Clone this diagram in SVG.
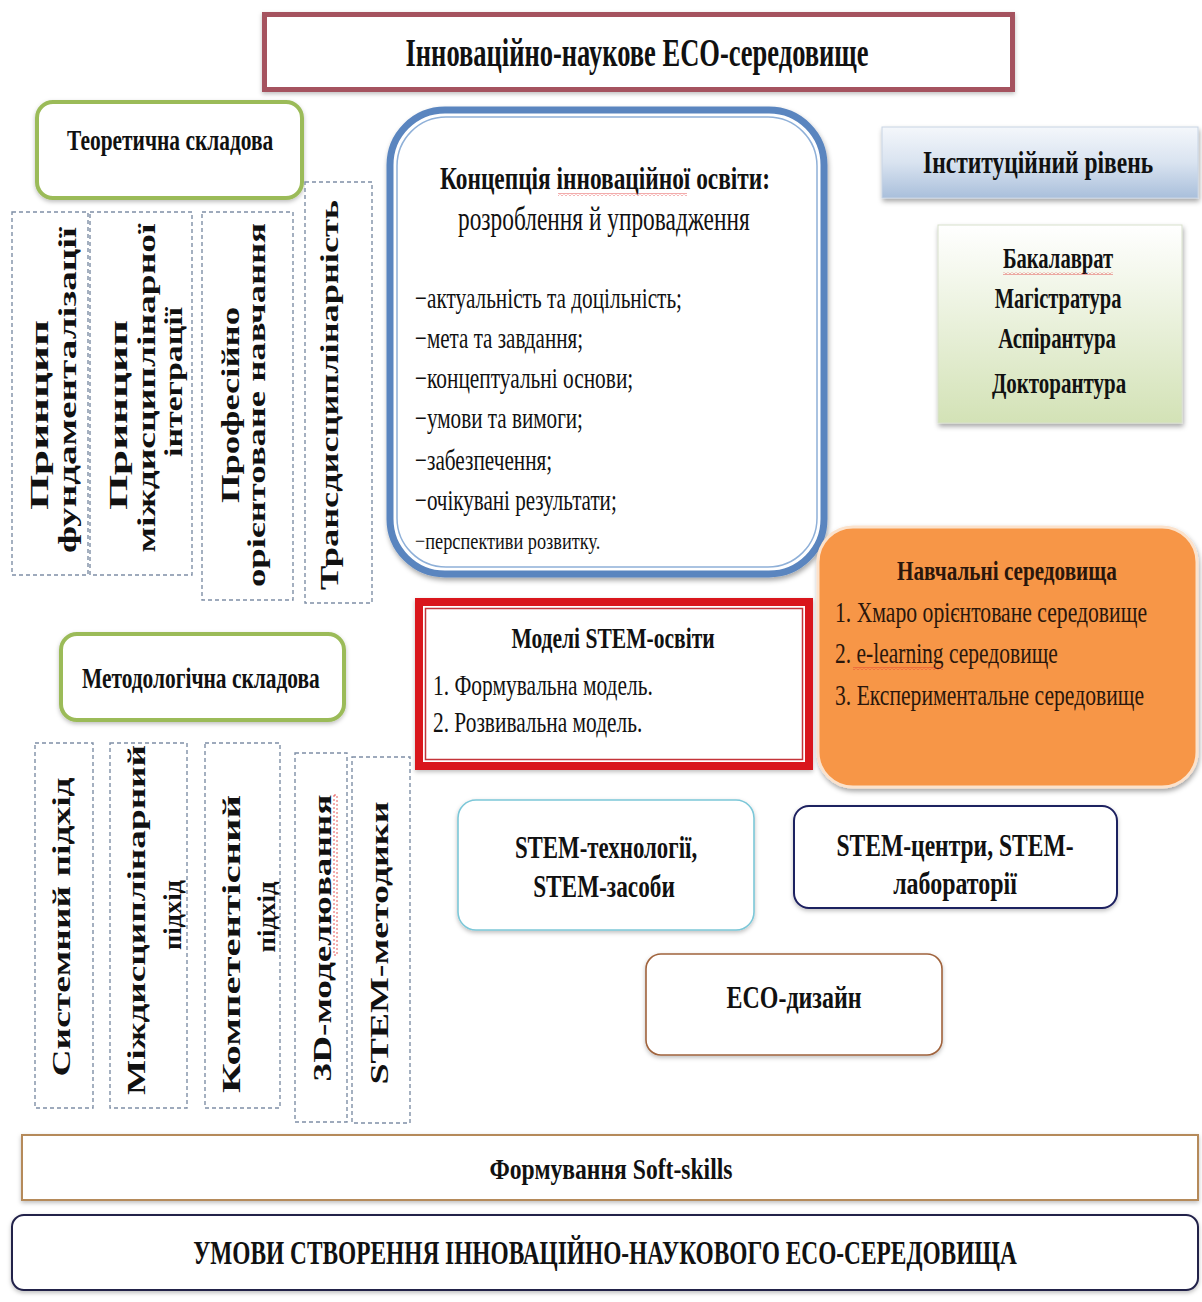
<svg xmlns="http://www.w3.org/2000/svg" width="1202" height="1302" viewBox="0 0 1202 1302">
<defs>
<style>
text{font-family:"Liberation Serif","Times New Roman",serif;fill:#111;}
.b{font-weight:bold;}
.dash{fill:#fff;stroke:#7f8fa6;stroke-width:1.4;stroke-dasharray:4 3;}
.vt{font-size:26px;font-weight:bold;text-anchor:middle;}
.green{fill:#fff;stroke:#9bbb59;stroke-width:4;}
.c{text-anchor:middle;}
.wave{fill:url(#wv);}
.or{fill:#2a160c;}
</style>
<pattern id="wv" width="4" height="3" patternUnits="userSpaceOnUse">
<path d="M0 2.5 L2 0.5 L4 2.5" fill="none" stroke="#e03030" stroke-width="0.8"/>
</pattern>
<filter id="sh" x="-10%" y="-10%" width="120%" height="130%">
<feDropShadow dx="1" dy="3" stdDeviation="2.5" flood-color="#000" flood-opacity="0.35"/>
</filter>
<filter id="sh2" x="-10%" y="-10%" width="120%" height="130%">
<feDropShadow dx="0" dy="2" stdDeviation="2" flood-color="#000" flood-opacity="0.25"/>
</filter>
<linearGradient id="gBlue" x1="0" y1="0" x2="0" y2="1">
<stop offset="0" stop-color="#f4f7fb"/>
<stop offset="0.5" stop-color="#d9e3f0"/>
<stop offset="1" stop-color="#a9bfdb"/>
</linearGradient>
<linearGradient id="gGreen" x1="0" y1="0" x2="0" y2="1">
<stop offset="0" stop-color="#ffffff"/>
<stop offset="1" stop-color="#d3e2b6"/>
</linearGradient>
</defs>
<rect width="1202" height="1302" fill="#fff"/>

<g id="connectors"/>

<g id="title">
<rect x="264.5" y="14.5" width="748" height="75" fill="#fff" stroke="#a5535e" stroke-width="5" filter="url(#sh2)"/>
<text class="b c" transform="translate(637,66) scale(0.72,1)" font-size="40" textLength="643" lengthAdjust="spacingAndGlyphs">Інноваційно-наукове  ECO-середовище</text>
</g>

<g id="theory">
<rect class="green" x="37" y="102" width="265" height="96" rx="16" filter="url(#sh2)"/>
<text class="b" transform="translate(67,150) scale(0.75,1)" font-size="29" textLength="275" lengthAdjust="spacingAndGlyphs">Теоретична  складова</text>
</g>

<g id="t1">
<rect class="dash" x="12" y="212" width="76" height="363"/>
<text class="vt" transform="translate(48,415) rotate(-90)" textLength="190" lengthAdjust="spacingAndGlyphs">Принцип</text>
<text class="vt" transform="translate(76,390) rotate(-90)" textLength="326" lengthAdjust="spacingAndGlyphs">фундаменталізації</text>
</g>
<g id="t2">
<rect class="dash" x="90" y="212" width="102" height="363"/>
<text class="vt" transform="translate(127,415) rotate(-90)" textLength="190" lengthAdjust="spacingAndGlyphs">Принцип</text>
<text class="vt" transform="translate(155,388) rotate(-90)" textLength="329" lengthAdjust="spacingAndGlyphs">міждисциплінарної</text>
<text class="vt" transform="translate(182,382) rotate(-90)" textLength="150" lengthAdjust="spacingAndGlyphs">інтеграції</text>
</g>
<g id="t3">
<rect class="dash" x="202" y="212" width="91" height="388"/>
<text class="vt" transform="translate(239,405) rotate(-90)" textLength="196" lengthAdjust="spacingAndGlyphs">Професійно</text>
<text class="vt" transform="translate(265,405) rotate(-90)" textLength="364" lengthAdjust="spacingAndGlyphs">орієнтоване навчання</text>
</g>
<g id="t4">
<rect class="dash" x="305" y="182" width="67" height="421"/>
<text class="vt" transform="translate(338,395) rotate(-90)" textLength="390" lengthAdjust="spacingAndGlyphs">Трансдисциплінарність</text>
</g>

<g id="concept">
<rect x="390" y="110" width="434" height="464" rx="55" fill="#fff" stroke="#5a85bf" stroke-width="7" filter="url(#sh)"/>
<rect x="397" y="117" width="420" height="450" rx="49" fill="none" stroke="#8fb0d8" stroke-width="1.5"/>
<text class="b" transform="translate(440,189) scale(0.75,1)" font-size="32" textLength="440" lengthAdjust="spacingAndGlyphs">Концепція інноваційної освіти:</text>
<rect class="wave" x="558" y="193" width="129" height="3"/>
<text transform="translate(458,230) scale(0.75,1)" font-size="34" textLength="389" lengthAdjust="spacingAndGlyphs">розроблення й упровадження</text>
<text transform="translate(415,308) scale(0.75,1)" font-size="30" textLength="356" lengthAdjust="spacingAndGlyphs">−актуальність  та доцільність;</text>
<text transform="translate(415,348) scale(0.75,1)" font-size="30" textLength="224" lengthAdjust="spacingAndGlyphs">−мета та завдання;</text>
<text transform="translate(415,388) scale(0.75,1)" font-size="30" textLength="291" lengthAdjust="spacingAndGlyphs">−концептуальні  основи;</text>
<text transform="translate(415,428) scale(0.75,1)" font-size="30" textLength="224" lengthAdjust="spacingAndGlyphs">−умови та вимоги;</text>
<text transform="translate(415,470) scale(0.75,1)" font-size="30" textLength="183" lengthAdjust="spacingAndGlyphs">−забезпечення;</text>
<text transform="translate(415,510) scale(0.75,1)" font-size="30" textLength="269" lengthAdjust="spacingAndGlyphs">−очікувані результати;</text>
<text transform="translate(415,549) scale(0.75,1)" font-size="24" textLength="247" lengthAdjust="spacingAndGlyphs">−перспективи розвитку.</text>
</g>

<g id="institutional">
<rect x="882" y="127" width="316" height="71" fill="url(#gBlue)" stroke="#c8d4e4" stroke-width="1" filter="url(#sh)"/>
<text class="b" transform="translate(923,173) scale(0.75,1)" font-size="32" textLength="307" lengthAdjust="spacingAndGlyphs">Інституційний рівень</text>
</g>

<g id="degrees">
<rect x="938" y="225" width="244" height="198" fill="url(#gGreen)" stroke="#d8e0cc" stroke-width="1" filter="url(#sh)"/>
<text class="b c" transform="translate(1058,268) scale(0.75,1)" font-size="29" textLength="147" lengthAdjust="spacingAndGlyphs">Бакалаврат</text>
<rect class="wave" x="1003" y="272" width="110" height="3"/>
<text class="b c" transform="translate(1058,308) scale(0.75,1)" font-size="29" textLength="169" lengthAdjust="spacingAndGlyphs">Магістратура</text>
<text class="b c" transform="translate(1057,348) scale(0.75,1)" font-size="29" textLength="157" lengthAdjust="spacingAndGlyphs">Аспірантура</text>
<text class="b c" transform="translate(1059,393) scale(0.75,1)" font-size="29" textLength="179" lengthAdjust="spacingAndGlyphs">Докторантура</text>
</g>

<g id="learning-env">
<rect x="818" y="527" width="379" height="260" rx="35" fill="#f79646" stroke="#fbe2cc" stroke-width="3" filter="url(#sh)"/>
<text class="b or" transform="translate(897,580) scale(0.75,1)" font-size="28" textLength="293" lengthAdjust="spacingAndGlyphs">Навчальні середовища</text>
<text class="or" transform="translate(835,622) scale(0.75,1)" font-size="29" textLength="416" lengthAdjust="spacingAndGlyphs">1. Хмаро орієнтоване  середовище</text>
<text class="or" transform="translate(835,663) scale(0.75,1)" font-size="29" textLength="297" lengthAdjust="spacingAndGlyphs">2. e-learning середовище</text>
<rect class="wave" x="853" y="667" width="90" height="3"/>
<text class="or" transform="translate(835,705) scale(0.75,1)" font-size="29" textLength="412" lengthAdjust="spacingAndGlyphs">3. Експериментальне  середовище</text>
</g>

<g id="stem-models">
<rect x="419" y="602" width="390" height="164" fill="#fff" stroke="#d9161c" stroke-width="8" filter="url(#sh2)"/>
<rect x="425.5" y="608.5" width="377" height="151" fill="none" stroke="#c4343a" stroke-width="1.5"/>
<text class="b c" transform="translate(613,648) scale(0.75,1)" font-size="30" textLength="271" lengthAdjust="spacingAndGlyphs">Моделі STEM-освіти</text>
<text transform="translate(433,695) scale(0.75,1)" font-size="29" textLength="293" lengthAdjust="spacingAndGlyphs">1. Формувальна  модель.</text>
<text transform="translate(433,732) scale(0.75,1)" font-size="29" textLength="279" lengthAdjust="spacingAndGlyphs">2. Розвивальна  модель.</text>
</g>

<g id="methodology">
<rect class="green" x="61" y="634" width="283" height="86" rx="16" filter="url(#sh2)"/>
<text class="b" transform="translate(82,688) scale(0.75,1)" font-size="29" textLength="317" lengthAdjust="spacingAndGlyphs">Методологічна складова</text>
</g>

<g id="m1">
<rect class="dash" x="35" y="743" width="58" height="365"/>
<text class="vt" transform="translate(70,927) rotate(-90)" textLength="299" lengthAdjust="spacingAndGlyphs">Системний підхід</text>
</g>
<g id="m2">
<rect class="dash" x="110" y="743" width="77" height="365"/>
<text class="vt" transform="translate(145,920) rotate(-90)" textLength="350" lengthAdjust="spacingAndGlyphs">Міждисциплінарний</text>
<text class="vt" transform="translate(181,915) rotate(-90)" textLength="70" lengthAdjust="spacingAndGlyphs">підхід</text>
</g>
<g id="m3">
<rect class="dash" x="205" y="743" width="75" height="365"/>
<text class="vt" transform="translate(240,944) rotate(-90)" textLength="298" lengthAdjust="spacingAndGlyphs">Компетентісний</text>
<text class="vt" transform="translate(275,917) rotate(-90)" textLength="71" lengthAdjust="spacingAndGlyphs">підхід</text>
</g>
<g id="m4">
<rect class="dash" x="295" y="753" width="52" height="369"/>
<text class="vt" transform="translate(331,938) rotate(-90)" textLength="287" lengthAdjust="spacingAndGlyphs">3D-моделювання</text>
<rect x="334" y="795" width="3" height="160" style="fill:none;stroke:#e03030;stroke-width:0.8;stroke-dasharray:2 2"/>
</g>
<g id="m5">
<rect class="dash" x="352" y="757" width="58" height="366"/>
<text class="vt" transform="translate(388,943) rotate(-90)" textLength="283" lengthAdjust="spacingAndGlyphs">STEM-методики</text>
</g>

<g id="stem-tech">
<rect x="458" y="800" width="296" height="130" rx="18" fill="#fff" stroke="#7cc7d8" stroke-width="1.6" filter="url(#sh2)"/>
<text class="b c" transform="translate(606,858) scale(0.75,1)" font-size="31" textLength="243" lengthAdjust="spacingAndGlyphs">STEM-технології,</text>
<text class="b c" transform="translate(604,897) scale(0.75,1)" font-size="31" textLength="189" lengthAdjust="spacingAndGlyphs">STEM-засоби</text>
</g>

<g id="stem-centers">
<rect x="794" y="806" width="323" height="102" rx="15" fill="#fff" stroke="#1f2060" stroke-width="2" filter="url(#sh2)"/>
<text class="b c" transform="translate(955,856) scale(0.75,1)" font-size="31" textLength="316" lengthAdjust="spacingAndGlyphs">STEM-центри, STEM-</text>
<text class="b c" transform="translate(955,894) scale(0.75,1)" font-size="31" textLength="165" lengthAdjust="spacingAndGlyphs">лабораторії</text>
</g>

<g id="eco-design">
<rect x="646" y="954" width="296" height="101" rx="15" fill="#fff" stroke="#a0633c" stroke-width="1.6" filter="url(#sh2)"/>
<text class="b c" transform="translate(794,1008) scale(0.75,1)" font-size="31" textLength="180" lengthAdjust="spacingAndGlyphs">ECO-дизайн</text>
</g>

<g id="soft-skills">
<rect x="22" y="1135" width="1176" height="65" fill="#fff" stroke="#b58a5a" stroke-width="2" filter="url(#sh2)"/>
<text class="b c" transform="translate(611,1179) scale(0.75,1)" font-size="29" textLength="324" lengthAdjust="spacingAndGlyphs">Формування Soft-skills</text>
</g>

<g id="conditions">
<rect x="12" y="1215" width="1186" height="75" rx="12" fill="#fff" stroke="#20204a" stroke-width="2" filter="url(#sh2)"/>
<text class="b c" transform="translate(605,1264) scale(0.72,1)" font-size="34" textLength="1144" lengthAdjust="spacingAndGlyphs">УМОВИ СТВОРЕННЯ ІННОВАЦІЙНО-НАУКОВОГО ECO-СЕРЕДОВИЩА</text>
</g>
</svg>
